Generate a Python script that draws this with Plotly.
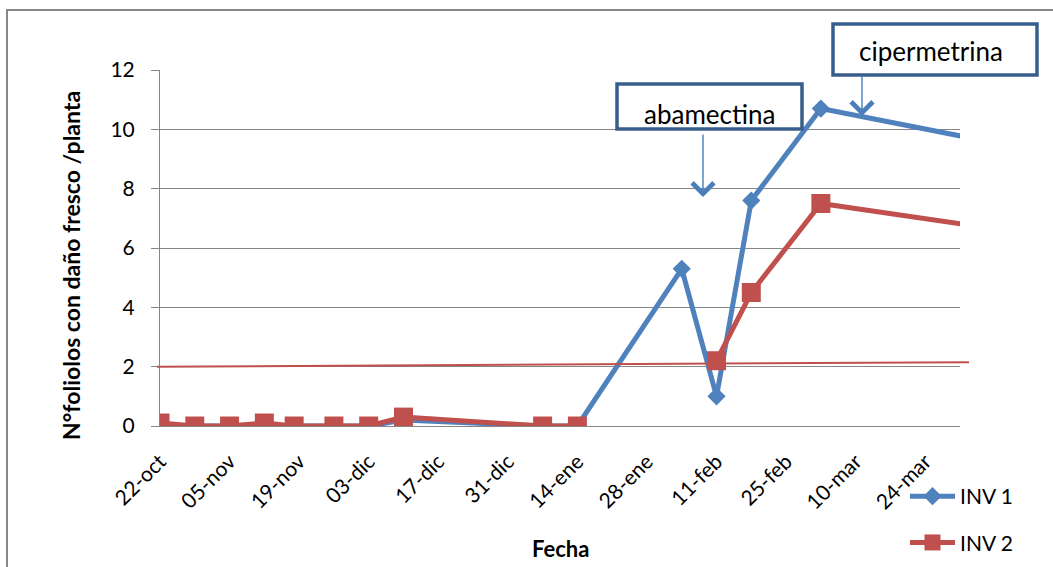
import plotly.graph_objects as go

# Sampling dates and counts of leaflets with fresh damage per plant
fechas = ['2011-10-22', '2011-10-29', '2011-11-05', '2011-11-12', '2011-11-18',
          '2011-11-26', '2011-12-03', '2011-12-10', '2012-01-07', '2012-01-14',
          '2012-02-04', '2012-02-11', '2012-02-18', '2012-03-03', '2012-04-07']
inv1 = [0, 0, 0, 0, 0, 0, 0, 0.2, 0, 0, 5.3, 1.0, 7.6, 10.7, 9.55]
inv2 = [0.1, 0, 0, 0.1, 0, 0, 0, 0.3, 0, 0, None, 2.2, 4.5, 7.5, 6.65]

tick_fechas = ['2011-10-22', '2011-11-05', '2011-11-19', '2011-12-03', '2011-12-17',
               '2011-12-31', '2012-01-14', '2012-01-28', '2012-02-11', '2012-02-25',
               '2012-03-10', '2012-03-24']
tick_textos = ['22-oct', '05-nov', '19-nov', '03-dic', '17-dic', '31-dic',
               '14-ene', '28-ene', '11-feb', '25-feb', '10-mar', '24-mar']

umbral = [2.0, 2.15]  # threshold line, left and right ends

W, H = 1053, 567
ML, MR, MT, MB = 160, 93, 70, 141
PW, PH = W - ML - MR, H - MT - MB

BLUE = '#4F81BD'
RED = '#C0504D'
GRID = '#868686'
BOX = '#385D8A'
ARROW = '#4A7EBB'
FONT = 'Lato'


def px(x):
    return (x - ML) / PW


def py(y):
    return (H - MB - y) / PH


fig = go.Figure()
fig.add_trace(go.Scatter(
    x=fechas, y=inv1, name='INV 1', mode='lines+markers',
    line=dict(color=BLUE, width=5),
    marker=dict(symbol='diamond', size=14, color=BLUE),
    legendgroup='a'))
fig.add_trace(go.Scatter(
    x=fechas, y=inv2, name='INV 2', mode='lines+markers',
    line=dict(color=RED, width=5),
    marker=dict(symbol='square', size=19, color=RED),
    legendgroup='b'))

shapes = [
    # outer chart border
    dict(type='rect', xref='paper', yref='paper',
         x0=px(7), x1=px(1070), y0=py(10), y1=py(600),
         line=dict(color=GRID, width=2), layer='below'),
    # threshold line
    dict(type='line', xref='paper', yref='y',
         x0=px(157), x1=px(969), y0=umbral[0], y1=umbral[1],
         line=dict(color=RED, width=2)),
    # label boxes
    dict(type='rect', xref='paper', yref='paper',
         x0=px(617), x1=px(802), y0=py(84), y1=py(129),
         line=dict(color=BOX, width=3.5)),
    dict(type='rect', xref='paper', yref='paper',
         x0=px(833), x1=px(1037), y0=py(24), y1=py(75),
         line=dict(color=BOX, width=3.5)),
]


def label(text, x, y, size, angle=0):
    return dict(text=text, xref='paper', yref='paper', x=px(x), y=py(y),
                xanchor='center', yanchor='middle', textangle=angle,
                showarrow=False, font=dict(family=FONT, size=size, color='#000000'))


annotations = [
    label('abamectina', 709, 114, 26),
    label('cipermetrina', 931, 51, 26),
    dict(text='', xref='paper', yref='paper', x=px(703), y=py(197),
         ax=0, ay=-64, showarrow=True, arrowhead=4, arrowsize=3,
         arrowwidth=1.4, arrowcolor=ARROW),
    dict(text='', xref='paper', yref='paper', x=px(862), y=py(116),
         ax=0, ay=-42, showarrow=True, arrowhead=4, arrowsize=3,
         arrowwidth=1.4, arrowcolor=ARROW),
    label('<b>N°foliolos con daño fresco /planta</b>', 71, 266, 23, -90),
    label('<b>Fecha</b>', 560, 548, 22),
]

fig.update_layout(
    width=W, height=H,
    margin=dict(l=ML, r=MR, t=MT, b=MB, autoexpand=False),
    paper_bgcolor='white', plot_bgcolor='white',
    font=dict(family=FONT, size=21, color='#000000'),
    shapes=shapes, annotations=annotations,
    showlegend=True,
    legend=dict(x=px(905), y=py(476), xanchor='left', yanchor='top',
                bgcolor='rgba(0,0,0,0)', tracegroupgap=16, itemwidth=45,
                font=dict(family=FONT, size=21, color='#000000')),
    xaxis=dict(type='date', range=['2011-10-22', '2012-03-31'],
               tickvals=tick_fechas, ticktext=tick_textos, tickangle=-45,
               showgrid=False, showline=True, linecolor=GRID, linewidth=1,
               ticks='', zeroline=False, ticklabelstandoff=14),
    yaxis=dict(range=[0, 12], dtick=2, showgrid=True, gridcolor=GRID, gridwidth=1,
               showline=True, linecolor=GRID, linewidth=1, ticks='outside',
               ticklen=8, tickcolor=GRID, zeroline=False, ticklabelstandoff=12),
)

fig.write_html('out.html')
